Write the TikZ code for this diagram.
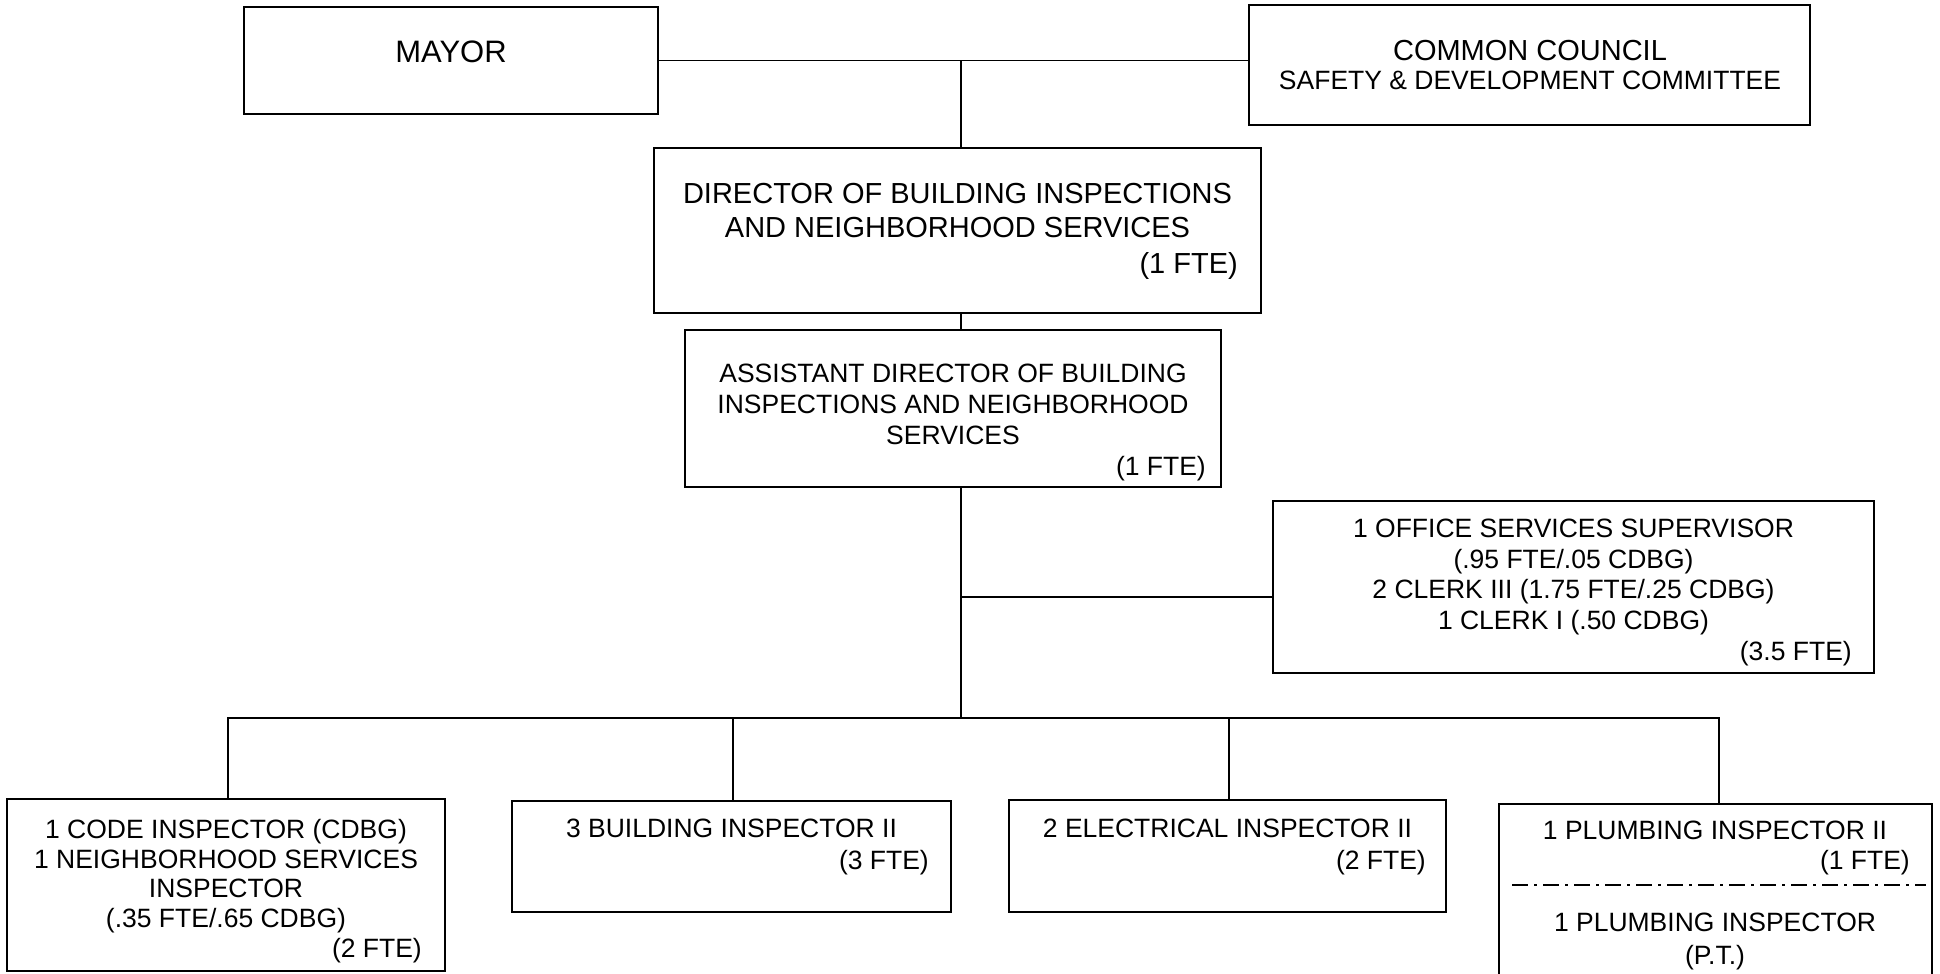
\documentclass[tikz,border=0pt]{standalone}
\usepackage{fontspec}
\setmainfont{Liberation Sans}
\begin{document}
\begin{tikzpicture}[x=1pt,y=-1pt,
  box/.style={draw, line width=2pt, inner sep=0pt, outer sep=0pt, anchor=north west},
  conn/.style={line width=1.5pt},
  tx/.style={anchor=base, inner sep=0pt, font=\fontsize{26.5}{30.5}\selectfont},
  txb/.style={anchor=base, inner sep=0pt, font=\fontsize{29}{33}\selectfont},
  fte/.style={anchor=base east, inner sep=0pt, font=\fontsize{26.5}{30.5}\selectfont},
  fteb/.style={anchor=base east, inner sep=0pt, font=\fontsize{29}{33}\selectfont},
  dashdot/.style={line width=1.2pt, dash pattern=on 16pt off 6pt on 3pt off 6pt}
]
\useasboundingbox (0,0) rectangle (1940,974);
\clip (0,0) rectangle (1940,974);

% boxes
\node[box, minimum width=414pt, minimum height=107pt] (mayor) at (244,7) {};
\node[box, minimum width=561pt, minimum height=120pt] (council) at (1249,5) {};
\node[box, minimum width=607pt, minimum height=165pt] (director) at (654,148) {};
\node[box, minimum width=536pt, minimum height=157pt] (assistant) at (685,330) {};
\node[box, minimum width=601pt, minimum height=172pt] (office) at (1273,501) {};
\node[box, minimum width=438pt, minimum height=172pt] (code) at (7,799) {};
\node[box, minimum width=439pt, minimum height=111pt] (building) at (512,801) {};
\node[box, minimum width=437pt, minimum height=112pt] (electrical) at (1009,800) {};
\node[box, minimum width=433pt, minimum height=200pt] (plumbing) at (1499,804) {};

% texts
\node[txb, font=\fontsize{31}{35}\selectfont] (t-mayor) at (451,63) {MAYOR};
\node[txb] (t-council1) at (1530,60) {COMMON COUNCIL};
\node[tx] (t-council2) at (1530,89.5) {SAFETY \& DEVELOPMENT COMMITTEE};

\node[txb] (t-dir1) at (957.5,203.4) {DIRECTOR OF BUILDING INSPECTIONS};
\node[txb] (t-dir2) at (957.5,237.4) {AND NEIGHBORHOOD SERVICES};
\node[fteb] (t-dir3) at (1238,273.4) {(1 FTE)};

\node[tx] (t-ast1) at (953,382.5) {ASSISTANT DIRECTOR OF BUILDING};
\node[tx] (t-ast2) at (953,413.5) {INSPECTIONS AND NEIGHBORHOOD};
\node[tx] (t-ast3) at (953,444.5) {SERVICES};
\node[fte] (t-ast4) at (1206,475.5) {(1 FTE)};

\node[tx] (t-off1) at (1573.5,537.5) {1 OFFICE SERVICES SUPERVISOR};
\node[tx] (t-off2) at (1573.5,568) {(.95 FTE/.05 CDBG)};
\node[tx] (t-off3) at (1573.5,598.5) {2 CLERK III (1.75 FTE/.25 CDBG)};
\node[tx] (t-off4) at (1573.5,629) {1 CLERK I (.50 CDBG)};
\node[fte] (t-off5) at (1852,660) {(3.5 FTE)};

\node[tx] (t-code1) at (226,838.5) {1 CODE INSPECTOR (CDBG)};
\node[tx] (t-code2) at (226,868) {1 NEIGHBORHOOD SERVICES};
\node[tx] (t-code3) at (226,897.5) {INSPECTOR};
\node[tx] (t-code4) at (226,927) {(.35 FTE/.65 CDBG)};
\node[fte] (t-code5) at (422,957) {(2 FTE)};

\node[tx] (t-bld1) at (731.5,837.5) {3 BUILDING INSPECTOR II};
\node[fte] (t-bld2) at (929,869.5) {(3 FTE)};

\node[tx] (t-ele1) at (1227.5,837.5) {2 ELECTRICAL INSPECTOR II};
\node[fte] (t-ele2) at (1426,869.5) {(2 FTE)};

\node[tx] (t-plb1) at (1715,839.5) {1 PLUMBING INSPECTOR II};
\node[fte] (t-plb2) at (1910,869.5) {(1 FTE)};
\node[tx] (t-plb3) at (1715,931.5) {1 PLUMBING INSPECTOR};
\node[tx] (t-plb4) at (1715,964.5) {(P.T.)};

% dash-dot separator in plumbing box
\coordinate (sepL) at (1512,885);
\coordinate (sepR) at (1926,885);
\draw[dashdot] (sepL) -- (sepR);

% connectors
\coordinate (j1) at (961,60.5);
\coordinate (jo) at (961,597);
\coordinate (bus) at (961,718);
\coordinate (b1) at (228,718);
\coordinate (b2) at (733,718);
\coordinate (b3) at (1229,718);
\coordinate (b4) at (1719,718);

\draw[conn] (mayor.east) -- (council.west |- mayor.east);
\draw[conn] (j1) -- (j1 |- director.north);
\draw[conn] (director.south -| j1) -- (j1 |- assistant.north);
\draw[conn] (assistant.south -| j1) -- (bus);
\draw[conn] (jo) -- (office.west |- jo);
\draw[conn] (b1 |- code.north) -- (b1) -- (b4) -- (b4 |- plumbing.north);
\draw[conn] (b2) -- (b2 |- building.north);
\draw[conn] (b3) -- (b3 |- electrical.north);
\end{tikzpicture}
\end{document}
